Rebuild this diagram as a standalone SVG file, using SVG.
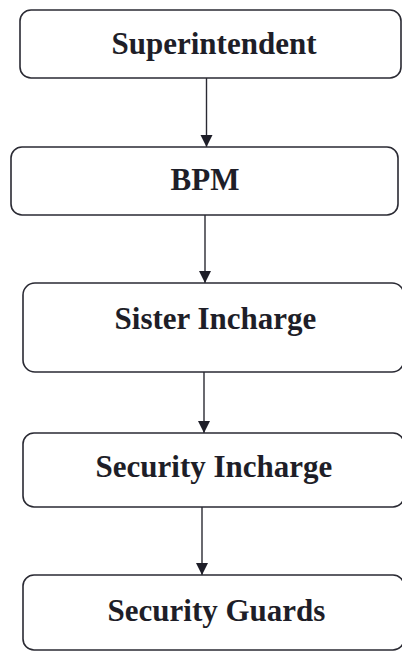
<svg xmlns="http://www.w3.org/2000/svg" width="402" height="652" viewBox="0 0 402 652">
<style>
.box{fill:#ffffff;stroke:#2a2a33;stroke-width:1.6}
.lbl{font-family:"Liberation Serif","Times New Roman",serif;font-weight:bold;font-size:31px;fill:#1e1e28;text-anchor:middle}
.conn{stroke:#2a2a33;stroke-width:1.4;fill:none}
</style>
<defs>
<marker id="ah" markerWidth="12" markerHeight="14" refX="12" refY="7" orient="auto" markerUnits="userSpaceOnUse">
<path d="M0,1 L12,7 L0,13 Z" fill="#1e1e28"/>
</marker>
</defs>
<rect width="402" height="652" fill="#ffffff"/>
<g id="connectors">
<line class="conn" x1="206.5" y1="78" x2="206.5" y2="147" marker-end="url(#ah)"/>
<line class="conn" x1="205" y1="215" x2="205" y2="283" marker-end="url(#ah)"/>
<line class="conn" x1="204" y1="372" x2="204" y2="433" marker-end="url(#ah)"/>
<line class="conn" x1="202" y1="507" x2="202" y2="575" marker-end="url(#ah)"/>
</g>
<g id="superintendent">
<rect class="box" x="20" y="10" width="381" height="68" rx="11"/>
<text class="lbl" x="214" y="54">Superintendent</text>
</g>
<g id="bpm">
<rect class="box" x="11" y="147" width="387" height="68" rx="11"/>
<text class="lbl" x="205" y="190">BPM</text>
</g>
<g id="sister-incharge">
<rect class="box" x="23" y="283" width="381" height="89" rx="12"/>
<text class="lbl" x="215.5" y="329">Sister Incharge</text>
</g>
<g id="security-incharge">
<rect class="box" x="23" y="433" width="381" height="74" rx="11"/>
<text class="lbl" x="214" y="477">Security Incharge</text>
</g>
<g id="security-guards">
<rect class="box" x="23" y="575" width="381" height="75" rx="11"/>
<text class="lbl" x="216.5" y="621">Security Guards</text>
</g>
</svg>
